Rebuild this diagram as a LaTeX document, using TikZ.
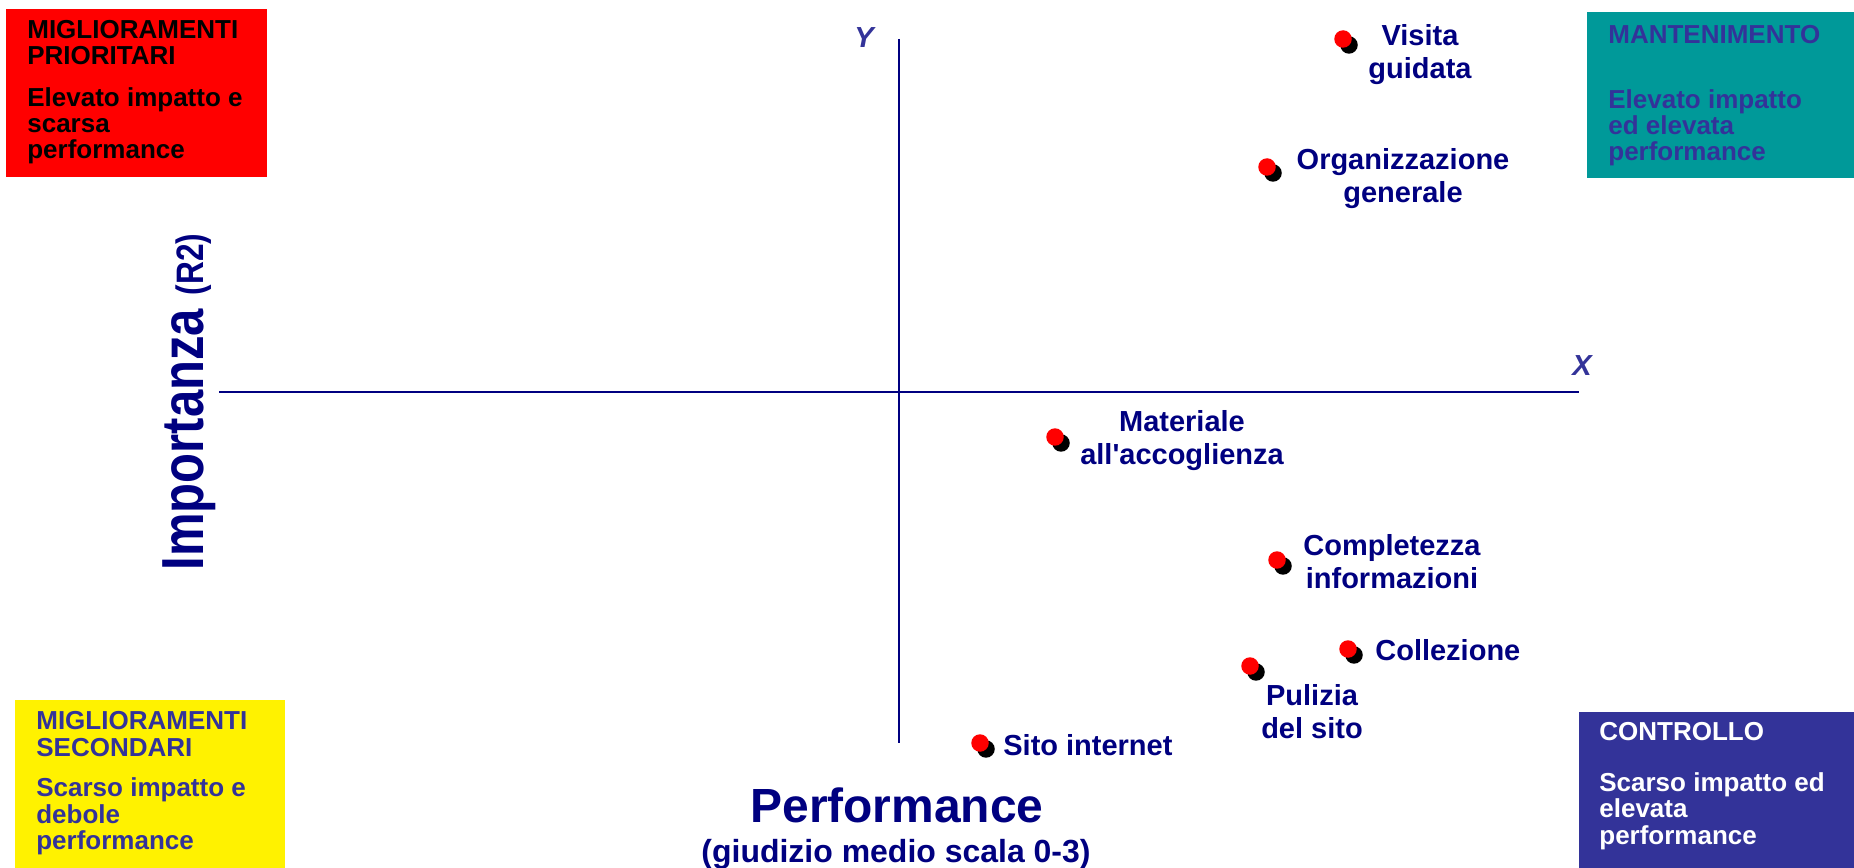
\documentclass[tikz,border=0pt]{standalone}
\usepackage{fontspec}
\setmainfont{Liberation Sans}
\usetikzlibrary{shadows}
\definecolor{navytext}{RGB}{0,0,128}
\definecolor{boxblue}{RGB}{51,51,153}
\definecolor{boxteal}{RGB}{0,153,153}

\begin{document}
\begin{tikzpicture}[x=0.02cm, y=-0.02cm,
    dot/.style = {circle, fill=red, minimum size=0.35cm, inner sep=0pt,
        drop shadow={shadow xshift=0.12cm, shadow yshift=-0.12cm, opacity=1, fill=black}},
    pointtext/.style = {text=navytext, align=center, inner sep=0pt,
        font=\bfseries\fontsize{16.5}{18.8}\selectfont},
    boxtext/.style = {anchor=base west, align=left, inner sep=0pt,
        font=\bfseries\fontsize{14.8}{14.8}\selectfont},
    axisname/.style = {text=boxblue, inner sep=0pt,
        font=\bfseries\itshape\fontsize{16.5}{18}\selectfont}]
    \useasboundingbox (0,0) rectangle (1854,868);
    \fill[red] (6,9) rectangle (267,177);
    \fill[boxteal] (1587,12) rectangle (1854,178);
    \fill[yellow] (15,700) rectangle (285,868);
    \fill[boxblue] (1579,712) rectangle (1854,868);
    \node[boxtext] (priotitle) at (27,65) {MIGLIORAMENTI\\PRIORITARI};
    \node[boxtext] (priobody) at (27,159) {Elevato impatto e\\scarsa\\performance};
    \node[boxtext, text=boxblue] (manttitle) at (1608,44) {MANTENIMENTO};
    \node[boxtext, text=boxblue] (mantbody) at (1608,161) {Elevato impatto\\ed elevata\\performance};
    \node[boxtext, text=boxblue] (secotitle) at (36,756) {MIGLIORAMENTI\\SECONDARI};
    \node[boxtext, text=boxblue] (secobody) at (36,849) {Scarso impatto e\\debole\\performance};
    \node[boxtext, text=white] (conttitle) at (1599,740) {CONTROLLO};
    \node[boxtext, text=white] (contbody) at (1599,844) {Scarso impatto ed\\elevata\\performance};
    \coordinate (ytop) at (899,39);
    \coordinate (ybot) at (899,743);
    \coordinate (xleft) at (219,392);
    \coordinate (xright) at (1579,392);
    \draw[navytext, line width=1pt] (ytop) -- (ybot);
    \draw[navytext, line width=1pt] (xleft) -- (xright);
    \node[axisname] (ylabel) at (864,38) {Y};
    \node[axisname] (xlabel) at (1582,366) {X};
    \node[dot] (visita) at (1343,39) {};
    \node[pointtext] (visitatext) at (1420,55) {Visita\\guidata};
    \node[dot] (organ) at (1267,167) {};
    \node[pointtext] (organtext) at (1403,179) {Organizzazione\\generale};
    \node[dot] (materiale) at (1055,437) {};
    \node[pointtext] (materialetext) at (1182,441) {Materiale\\all\textquotesingle accoglienza};
    \node[dot] (complet) at (1277,560) {};
    \node[pointtext] (complettext) at (1392,562) {Completezza\\informazioni};
    \node[dot] (collez) at (1348,649) {};
    \node[pointtext, anchor=base west] (colleztext) at (1375,660) {Collezione};
    \node[dot] (pulizia) at (1250,666) {};
    \node[pointtext] (puliziatext) at (1312,712) {Pulizia\\del sito};
    \node[dot] (sito) at (980,743) {};
    \node[pointtext, anchor=base west] (sitotext) at (1003,755) {Sito internet};
    \node[anchor=base, text=navytext, font=\bfseries\fontsize{27.3}{30}\selectfont] (perf) at (897,822) {Performance};
    \node[anchor=base, text=navytext, font=\bfseries\fontsize{18.2}{20}\selectfont] (scala) at (896,862) {(giudizio medio scala 0-3)};
    \node[rotate=90, anchor=base, text=navytext, inner sep=0pt] (imp) at (203,402)
        {\scalebox{1}[1.21]{\bfseries\fontsize{27.9}{32}\selectfont Importanza \fontsize{18}{20}\selectfont(R2)}};
\end{tikzpicture}
\end{document}
